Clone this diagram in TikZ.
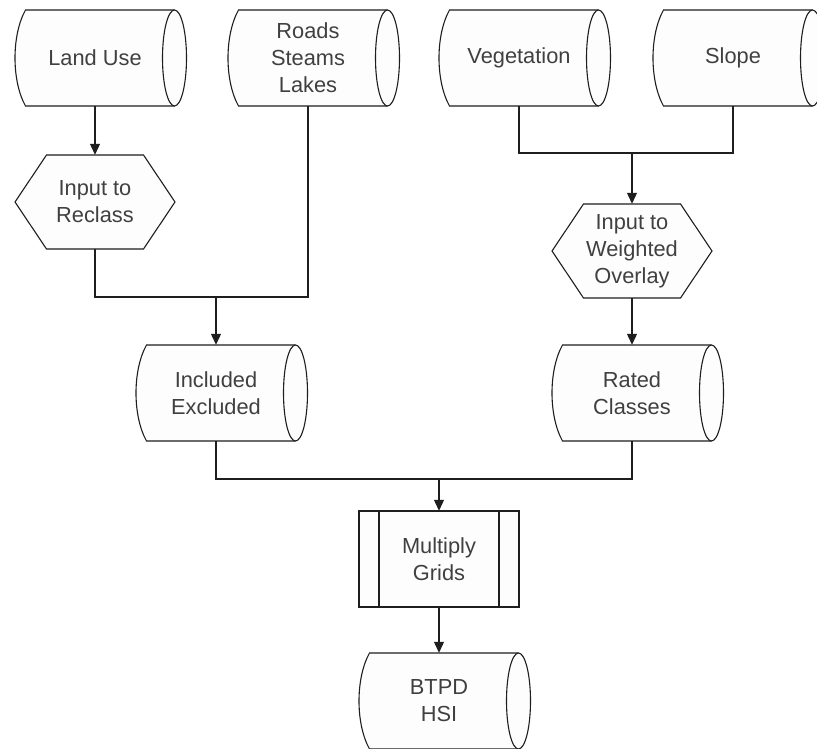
\documentclass[tikz,border=0pt]{standalone}
\usepackage{fontspec}
\setmainfont{Liberation Sans}
\usetikzlibrary{arrows.meta,calc}
\definecolor{ln}{HTML}{1E1E1E}
\definecolor{tx}{HTML}{404040}
\definecolor{fl}{HTML}{FDFDFD}
\tikzset{
  outl/.style={draw=ln, fill=fl, line width=1.1pt, line join=miter},
  conn/.style={draw=ln, line width=1.1pt},
  arr/.style={conn, -{Triangle[length=11pt,width=10pt]}},
  lbl/.style={draw=none, inner sep=0pt, align=center, text=tx, font=\fontsize{21.8}{27}\selectfont},
  dbn/.style={lbl, minimum width=150pt, minimum height=96pt},
  hexn/.style={lbl, minimum width=160pt, minimum height=94pt},
  boxn/.style={lbl, minimum width=160pt, minimum height=96pt},
}
% stored-data shape: #1 = centre x, #2 = centre y
\newcommand\dbshape[2]{%
  \fill[fl] (#1-69.5,#2-48) -- (#1+79.5,#2-48) -- (#1+79.5,#2+48) -- (#1-69.5,#2+48)
     .. controls (#1-83.5,#2+23) and (#1-83.5,#2-23) .. cycle;
  \draw[conn] (#1+79.5,#2-48) -- (#1-69.5,#2-48)
     .. controls (#1-83.5,#2-23) and (#1-83.5,#2+23) .. (#1-69.5,#2+48) -- (#1+79.5,#2+48);
  \path[outl] (#1+79.5,#2) ellipse [x radius=12, y radius=48];
}
\newcommand\hexshape[2]{%
  \path[outl] (#1-48.5,#2-47) -- (#1+48.5,#2-47) -- (#1+80,#2) -- (#1+48.5,#2+47)
     -- (#1-48.5,#2+47) -- (#1-80,#2) -- cycle;
}
\newcommand\procshape[2]{%
  \path[outl] (#1-80,#2-48) rectangle (#1+80,#2+48);
  \draw[conn] (#1-60,#2-48) -- (#1-60,#2+48);
  \draw[conn] (#1+60,#2-48) -- (#1+60,#2+48);
}
\begin{document}
\begin{tikzpicture}[x=1pt, y=-1pt]
  \useasboundingbox (0,0) rectangle (817,749);
  \fill[white] (0,0) rectangle (817,749);

  % shapes
  \dbshape{95}{58}
  \dbshape{308}{58}
  \dbshape{519}{58}
  \dbshape{733}{58}
  \hexshape{95}{202}
  \hexshape{632}{251}
  \dbshape{216}{393}
  \dbshape{632}{393}
  \procshape{439}{559}
  \dbshape{439}{701}

  % nodes
  \node[dbn] (land) at (95,58) {Land Use};
  \node[dbn] (roads) at (308,58) {Roads\\Steams\\Lakes};
  \node[dbn] (veg) at (519,58) {Vegetation};
  \node[dbn] (slope) at (733,58) {Slope};
  \node[hexn] (reclass) at (95,202) {Input to\\Reclass};
  \node[hexn] (weighted) at (632,251) {Input to\\Weighted\\Overlay};
  \node[dbn] (incl) at (216,393) {Included\\Excluded};
  \node[dbn] (rated) at (632,393) {Rated\\Classes};
  \node[boxn] (mult) at (439,559) {Multiply\\Grids};
  \node[dbn] (btpd) at (439,701) {BTPD\\HSI};

  % junctions
  \coordinate (j1) at (216,297);
  \coordinate (j2) at (632,153);
  \coordinate (j3) at (439,479);

  % connectors
  \draw[arr] (land.south) -- (reclass.north);
  \draw[conn] (reclass.south) -- (reclass.south |- j1) -- (roads.south |- j1) -- (roads.south);
  \draw[arr] (j1) -- (incl.north);
  \draw[conn] (veg.south) -- (veg.south |- j2) -- (slope.south |- j2) -- (slope.south);
  \draw[arr] (j2) -- (weighted.north);
  \draw[arr] (weighted.south) -- (rated.north);
  \draw[conn] (incl.south) -- (incl.south |- j3) -- (rated.south |- j3) -- (rated.south);
  \draw[arr] (j3) -- (mult.north);
  \draw[arr] (mult.south) -- (btpd.north);
\end{tikzpicture}
\end{document}
